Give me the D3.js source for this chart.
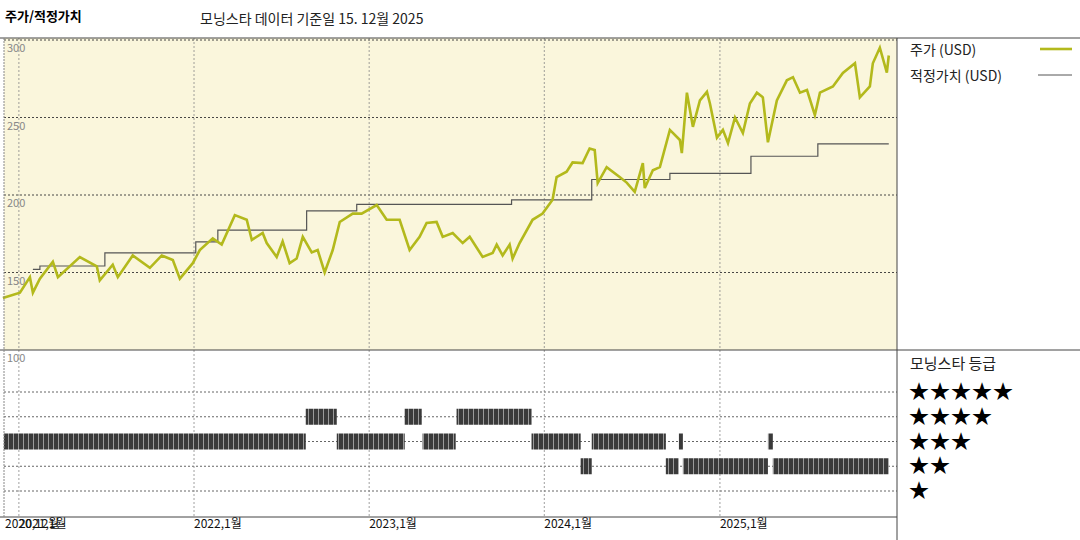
<!DOCTYPE html>
<html><head><meta charset="utf-8">
<script src="https://cdn.jsdelivr.net/npm/d3@7"></script>
<style>body{margin:0;background:#fff}text{font-family:"Noto Sans CJK KR","DejaVu Sans",sans-serif}</style>
</head><body><svg id="c" width="1080" height="540"></svg>
<script>
// decimal-year dates and values
const priceT=[2020.909,2021.006,2021.063,2021.080,2021.120,2021.194,2021.223,2021.348,2021.445,2021.462,2021.536,2021.565,2021.650,2021.748,2021.816,2021.879,2021.919,2021.993,2022.033,2022.107,2022.158,2022.233,2022.301,2022.330,2022.392,2022.415,2022.472,2022.506,2022.546,2022.586,2022.621,2022.672,2022.706,2022.746,2022.792,2022.832,2022.906,2022.957,2023.043,2023.100,2023.174,2023.231,2023.288,2023.328,2023.385,2023.420,2023.477,2023.534,2023.574,2023.648,2023.705,2023.728,2023.762,2023.802,2023.819,2023.859,2023.933,2023.990,2024.047,2024.070,2024.127,2024.161,2024.218,2024.258,2024.287,2024.304,2024.355,2024.429,2024.469,2024.515,2024.561,2024.572,2024.618,2024.658,2024.715,2024.772,2024.783,2024.812,2024.846,2024.886,2024.926,2024.943,2024.983,2025.017,2025.046,2025.086,2025.131,2025.171,2025.211,2025.245,2025.274,2025.325,2025.382,2025.417,2025.457,2025.497,2025.542,2025.571,2025.645,2025.702,2025.771,2025.799,2025.856,2025.873,2025.913,2025.953,2025.964];
const priceV=[133.5,137,147,137,146,157,147,160,154,145,155,147,161,153,161,158,146,156,164.5,172,168,187,184,171,175.5,169,160,170,156,159,173,163,164.5,150,164.5,182.6,188,188,193.5,184,184,164.5,173,182,182.6,173,175.5,169,173,160,162.6,168,161,168,159,169,184,188,197,211.6,215,221,220.6,230,229,207.7,218,211.6,208,202,220.6,204.5,216,218,242,235.5,227,266,244,261,266.5,259,237,242,233.5,250,240,259,266,263,234,261,274,276,266,267.7,251.6,266,270,278.7,285,263,270,285,295,279,290];
const fairT=[2021.080,2021.120,2021.491,2022.010,2022.136,2022.643,2022.929,2023.813,2024.270,2024.715,2025.177,2025.559,2025.964];
const fairV=[152,154.2,162.6,169.7,177.4,189.7,194,196.8,210,214,225,233,233];
const ratingStart=[2020.914,2022.638,2022.815,2023.203,2023.305,2023.499,2023.927,2024.207,2024.270,2024.692,2024.766,2024.789,2025.274,2025.302];
const ratingEnd=[2022.638,2022.815,2023.203,2023.300,2023.494,2023.927,2024.207,2024.270,2024.692,2024.766,2024.789,2025.274,2025.302,2025.964];
const ratingStars=[3,4,3,4,3,4,3,2,3,2,3,2,3,2];
const yTicks=[300,250,200,150];
const xTickDates=["2020-12-01","2021-01-01","2022-01-01","2023-01-01","2024-01-01","2025-01-01"];
const xTickLabels=["2020,12월","2021,1월","2022,1월","2023,1월","2024,1월","2025,1월"];

const toDate=t=>{const y=Math.floor(t);const s=new Date(y,0,1),e=new Date(y+1,0,1);return new Date(+s+(t-y)*(e-s));};
const svg=d3.select("#c");
const L=4,R=897,T=38,M=350,B=517;
const x=d3.scaleTime().domain([new Date(2020,11,1),new Date(2026,0,5)]).range([L,R]);
const y=d3.scaleLinear().domain([100,300]).range([M,40]);
const yr=d3.scaleLinear().domain([5,1]).range([392,491]);

svg.append("rect").attr("x",L).attr("y",T).attr("width",R-L).attr("height",M-T).attr("fill","#faf6dc");
const defs=svg.append("defs");
const pat=defs.append("pattern").attr("id","st").attr("patternUnits","userSpaceOnUse").attr("width",5).attr("height",20);
pat.append("rect").attr("width",5).attr("height",20).attr("fill","#3a3a3a");
pat.append("rect").attr("x",3).attr("width",1).attr("height",20).attr("fill","#9a9a9a");

const g=svg.append("g");
yTicks.forEach(v=>g.append("line").attr("x1",L).attr("x2",R).attr("y1",y(v)).attr("y2",y(v)).attr("stroke","#333").attr("stroke-dasharray","2,2").attr("stroke-width",0.9));
[5,4,3,2,1].forEach(v=>g.append("line").attr("x1",L).attr("x2",R).attr("y1",yr(v)).attr("y2",yr(v)).attr("stroke","#555").attr("stroke-dasharray","2,2").attr("stroke-width",0.9));
xTickDates.slice(1).forEach(d=>g.append("line").attr("x1",x(new Date(d))).attr("x2",x(new Date(d))).attr("y1",T).attr("y2",B).attr("stroke","#888").attr("stroke-dasharray","2,2").attr("stroke-width",0.8));
yTicks.concat([100]).forEach(v=>g.append("text").attr("x",7).attr("y",y(v)+12).attr("font-size",11).attr("fill","#888").text(v));

g.selectAll(".rb").data(ratingStars).enter().append("rect")
 .attr("x",(d,i)=>x(toDate(ratingStart[i]))).attr("width",(d,i)=>Math.max(1,x(toDate(ratingEnd[i]))-x(toDate(ratingStart[i]))))
 .attr("y",d=>yr(d)-8).attr("height",16).attr("fill","url(#st)");

g.append("path").datum(fairT.map((t,i)=>[toDate(t),fairV[i]])).attr("fill","none").attr("stroke","#555").attr("stroke-width",1.2)
 .attr("d",d3.line().x(d=>x(d[0])).y(d=>y(d[1])).curve(d3.curveStepAfter));
g.append("path").datum(priceT.map((t,i)=>[toDate(t),priceV[i]])).attr("fill","none").attr("stroke","#b3b91c").attr("stroke-width",2.6)
 .attr("d",d3.line().x(d=>x(d[0])).y(d=>y(d[1])));

svg.append("line").attr("x1",0).attr("x2",1080).attr("y1",T).attr("y2",T).attr("stroke","#444");
svg.append("line").attr("x1",0).attr("x2",1080).attr("y1",M).attr("y2",M).attr("stroke","#444");
svg.append("line").attr("x1",0).attr("x2",R).attr("y1",B).attr("y2",B).attr("stroke","#444");
svg.append("line").attr("x1",L).attr("x2",L).attr("y1",T).attr("y2",B).attr("stroke","#888").attr("stroke-dasharray","2,1");
svg.append("line").attr("x1",R).attr("x2",R).attr("y1",T).attr("y2",540).attr("stroke","#444");

xTickDates.forEach((d,i)=>svg.append("text").attr("x",x(new Date(d))+(i==0?1:0)).attr("y",528).attr("font-size",12).attr("fill","#111").text(xTickLabels[i]));

svg.append("text").attr("x",5).attr("y",21).attr("font-size",13).attr("font-weight","bold").text("주가/적정가치");
svg.append("text").attr("x",200).attr("y",24).attr("font-size",14).attr("fill","#222").text("모닝스타 데이터 기준일 15. 12월 2025");

svg.append("text").attr("x",910).attr("y",55).attr("font-size",14).attr("fill","#222").text("주가 (USD)");
svg.append("line").attr("x1",1040).attr("x2",1072).attr("y1",49).attr("y2",49).attr("stroke","#b3b91c").attr("stroke-width",2.6);
svg.append("text").attr("x",910).attr("y",81).attr("font-size",14).attr("fill","#222").text("적정가치 (USD)");
svg.append("line").attr("x1",1038).attr("x2",1072).attr("y1",75).attr("y2",75).attr("stroke","#555").attr("stroke-width",1);
svg.append("text").attr("x",910).attr("y",369).attr("font-size",15).attr("fill","#222").text("모닝스타 등급");
[5,4,3,2,1].forEach(v=>svg.append("text").attr("x",909).attr("y",yr(v)+7).attr("font-size",20).attr("letter-spacing",1).attr("font-family","DejaVu Sans").attr("fill","#000").text("★".repeat(v)));
</script></body></html>
